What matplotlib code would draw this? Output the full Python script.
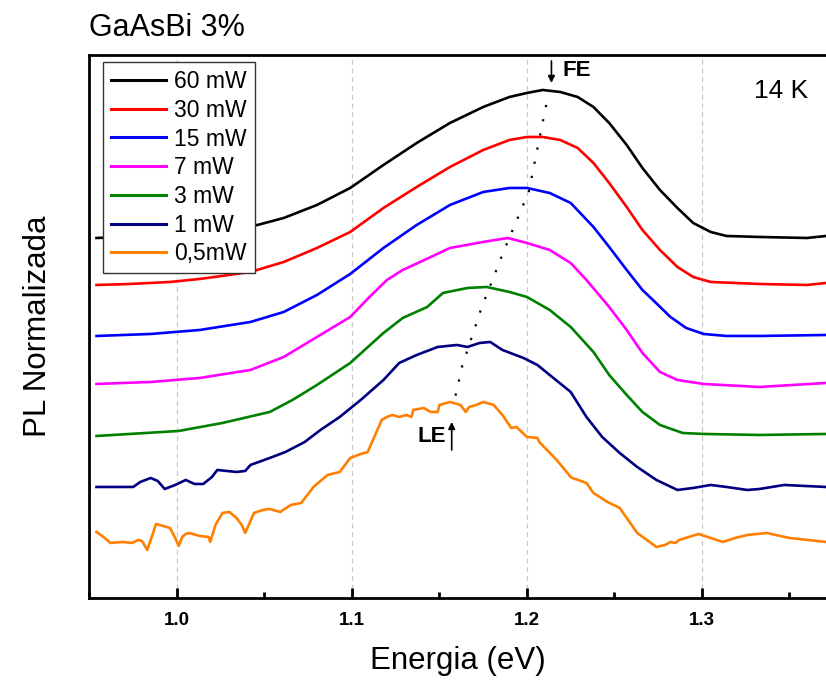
import matplotlib
matplotlib.use("Agg")
import matplotlib.pyplot as plt
from matplotlib.ticker import MultipleLocator, NullLocator

plt.rcParams['font.family'] = ['Liberation Sans', 'DejaVu Sans']

# spectra (energy in eV, stacked normalized PL, arbitrary units)
e_60 = [0.954, 0.985, 1.013, 1.046, 1.061, 1.080, 1.099, 1.118, 1.137, 1.156, 1.175, 1.190, 1.200, 1.209,
        1.219, 1.229, 1.238, 1.247, 1.257, 1.266, 1.276, 1.286, 1.295, 1.305, 1.314, 1.333, 1.360, 1.371]
pl_60 = [3.60, 3.62, 3.65, 3.73, 3.80, 3.93, 4.10, 4.33, 4.55, 4.75, 4.91, 5.01, 5.05, 5.08,
         5.06, 5.01, 4.91, 4.75, 4.53, 4.30, 4.08, 3.90, 3.75, 3.66, 3.62, 3.61, 3.60, 3.62]

e_30 = [0.954, 0.973, 0.996, 1.013, 1.042, 1.061, 1.080, 1.099, 1.118, 1.137, 1.156, 1.175, 1.190, 1.200,
        1.209, 1.219, 1.229, 1.238, 1.247, 1.257, 1.266, 1.276, 1.286, 1.295, 1.305, 1.333, 1.360, 1.371]
pl_30 = [3.13, 3.14, 3.16, 3.19, 3.26, 3.36, 3.50, 3.66, 3.90, 4.11, 4.31, 4.48, 4.58, 4.61,
         4.61, 4.58, 4.50, 4.35, 4.15, 3.91, 3.68, 3.48, 3.31, 3.21, 3.16, 3.14, 3.13, 3.15]

e_15 = [0.954, 0.985, 1.013, 1.042, 1.061, 1.080, 1.099, 1.118, 1.137, 1.156, 1.175, 1.190, 1.200, 1.213,
        1.225, 1.238, 1.247, 1.257, 1.266, 1.272, 1.282, 1.291, 1.301, 1.314, 1.333, 1.371]
pl_15 = [2.62, 2.64, 2.68, 2.76, 2.86, 3.03, 3.24, 3.50, 3.73, 3.93, 4.06, 4.10, 4.10, 4.05,
         3.95, 3.71, 3.51, 3.28, 3.08, 2.98, 2.81, 2.70, 2.64, 2.62, 2.62, 2.63]

e_7 = [0.954, 0.985, 1.013, 1.042, 1.061, 1.080, 1.099, 1.110, 1.120, 1.129, 1.139, 1.156, 1.175, 1.189,
       1.200, 1.213, 1.225, 1.234, 1.247, 1.257, 1.266, 1.276, 1.286, 1.301, 1.333, 1.371]
pl_7 = [2.14, 2.16, 2.20, 2.28, 2.41, 2.61, 2.81, 3.01, 3.18, 3.28, 3.36, 3.50, 3.56, 3.60,
        3.55, 3.48, 3.35, 3.18, 2.91, 2.68, 2.45, 2.26, 2.18, 2.14, 2.11, 2.15]

e_3 = [0.954, 0.973, 1.001, 1.026, 1.053, 1.066, 1.080, 1.099, 1.118, 1.129, 1.143, 1.152, 1.166, 1.177,
       1.190, 1.200, 1.213, 1.225, 1.238, 1.247, 1.257, 1.266, 1.276, 1.289, 1.301, 1.333, 1.371]
pl_3 = [1.62, 1.64, 1.67, 1.75, 1.86, 1.98, 2.13, 2.35, 2.65, 2.80, 2.91, 3.05, 3.10, 3.11,
        3.06, 3.01, 2.88, 2.71, 2.46, 2.23, 2.03, 1.86, 1.73, 1.65, 1.64, 1.63, 1.64]

e_1 = [0.954, 0.975, 0.979, 0.985, 0.989, 0.993, 0.999, 1.005, 1.010, 1.015,
       1.020, 1.023, 1.034, 1.039, 1.042, 1.053, 1.062, 1.073, 1.082, 1.093,
       1.105, 1.118, 1.127, 1.137, 1.149, 1.160, 1.166, 1.173, 1.179, 1.186,
       1.198, 1.206, 1.213, 1.225, 1.234, 1.243, 1.253, 1.263, 1.274, 1.286,
       1.295, 1.305, 1.314, 1.326, 1.333, 1.347, 1.371]
pl_1 = [1.11, 1.11, 1.16, 1.20, 1.17, 1.09, 1.13, 1.18, 1.14, 1.14,
        1.21, 1.28, 1.26, 1.27, 1.33, 1.40, 1.46, 1.56, 1.68, 1.81,
        1.98, 2.18, 2.35, 2.43, 2.51, 2.53, 2.51, 2.55, 2.56, 2.48,
        2.40, 2.33, 2.23, 2.06, 1.81, 1.61, 1.45, 1.31, 1.18, 1.08,
        1.10, 1.13, 1.11, 1.08, 1.09, 1.13, 1.11]

e_05 = [0.954, 0.958, 0.962, 0.969, 0.974, 0.978, 0.980, 0.983, 0.986, 0.988, 0.992, 0.996, 0.999, 1.001,
        1.003, 1.005, 1.007, 1.013, 1.018, 1.019, 1.022, 1.026, 1.030, 1.034, 1.037, 1.039, 1.042, 1.044,
        1.049, 1.053, 1.059, 1.065, 1.071, 1.078, 1.086, 1.093, 1.099, 1.105, 1.109, 1.112, 1.117, 1.120,
        1.123, 1.127, 1.131, 1.134, 1.135, 1.141, 1.145, 1.149, 1.150, 1.156, 1.162, 1.165, 1.167, 1.171,
        1.175, 1.181, 1.186, 1.191, 1.194, 1.200, 1.206, 1.207, 1.217, 1.225, 1.226, 1.234, 1.238, 1.246,
        1.253, 1.263, 1.274, 1.279, 1.282, 1.285, 1.287, 1.298, 1.305, 1.312, 1.319, 1.326, 1.337, 1.350,
        1.371]
pl_05 = [0.66, 0.61, 0.55, 0.56, 0.55, 0.58, 0.57, 0.48, 0.63, 0.74, 0.72, 0.70, 0.60, 0.52,
         0.61, 0.64, 0.65, 0.62, 0.61, 0.56, 0.73, 0.85, 0.86, 0.80, 0.73, 0.65, 0.77, 0.85,
         0.88, 0.89, 0.86, 0.93, 0.95, 1.11, 1.23, 1.26, 1.40, 1.44, 1.46, 1.58, 1.78, 1.81,
         1.83, 1.81, 1.83, 1.81, 1.88, 1.90, 1.86, 1.86, 1.93, 1.96, 1.93, 1.86, 1.91, 1.93,
         1.96, 1.93, 1.83, 1.70, 1.71, 1.61, 1.60, 1.56, 1.38, 1.21, 1.20, 1.15, 1.05, 0.96,
         0.90, 0.65, 0.51, 0.53, 0.56, 0.55, 0.58, 0.64, 0.60, 0.56, 0.60, 0.63, 0.65, 0.60,
         0.56]

labels = ['60 mW', '30 mW', '15 mW', '7 mW', '3 mW', '1 mW', '0,5mW']
colors = ['#000000', '#ff0000', '#0000ff', '#ff00ff', '#008000', '#000080', '#ff8000']
energies = [e_60, e_30, e_15, e_7, e_3, e_1, e_05]
spectra = [pl_60, pl_30, pl_15, pl_7, pl_3, pl_1, pl_05]

# dotted guide through the peak shift
trend_e = [1.211, 1.201, 1.187, 1.174, 1.163, 1.159]
trend_pl = [4.93, 4.06, 3.48, 2.90, 2.32, 2.01]

fig = plt.figure(figsize=(8.26, 6.83), dpi=100)
ax = fig.add_axes([0.1077, 0.1245, 0.8923, 0.795])

for e, pl, c, lab in zip(energies, spectra, colors, labels):
    assert len(e) == len(pl)
    ax.plot(e, pl, color=c, lw=1.9, label=lab, solid_joinstyle='round')

ax.plot(trend_e, trend_pl, color='k', lw=1.6, linestyle=(0, (1, 5.5)))

ax.set_xlim(0.9497, 1.3709)
ax.set_ylim(0, 5.43)
ax.xaxis.set_major_locator(MultipleLocator(0.1))
ax.xaxis.set_minor_locator(MultipleLocator(0.05))
ax.yaxis.set_major_locator(NullLocator())
ax.tick_params(axis='x', which='major', direction='in', length=7, width=2, pad=10,
               labelsize=13.5, top=False)
ax.tick_params(axis='x', which='minor', direction='in', length=4, width=2, top=False)
for t in ax.get_xticklabels():
    t.set_fontweight('bold')
ax.xaxis.grid(True, which='major', color='#c8c8c8', linestyle=(0, (4, 3)), lw=0.9)

for side in ['left', 'bottom', 'top']:
    ax.spines[side].set_linewidth(2)
ax.spines['right'].set_visible(False)

ax.set_xlabel('Energia (eV)', fontsize=22.5, labelpad=12)
ax.set_ylabel('PL Normalizada', fontsize=22.5, labelpad=26)
ax.set_title('GaAsBi 3%', loc='left', fontsize=22, pad=14)

leg = ax.legend(loc='upper left', bbox_to_anchor=(0.019, 0.987), borderaxespad=0,
                fontsize=16.5, handlelength=2.4, handletextpad=0.35, labelspacing=0.25,
                borderpad=0.35, fancybox=False, framealpha=1, edgecolor='#333333')
leg.get_frame().set_linewidth(1.0)
for line in leg.get_lines():
    line.set_linewidth(2.2)

ax.annotate('', xy=(1.214, 5.15), xytext=(1.214, 5.37),
            arrowprops=dict(arrowstyle='-|>', color='k', lw=1.2, mutation_scale=10,
                            shrinkA=0, shrinkB=0))
ax.text(1.2206, 5.27, 'FE', fontsize=16, fontweight='bold', va='center', ha='left')

ax.annotate('', xy=(1.157, 1.76), xytext=(1.157, 1.48),
            arrowprops=dict(arrowstyle='-|>', color='k', lw=1.2, mutation_scale=10,
                            shrinkA=0, shrinkB=0))
ax.text(1.1535, 1.61, 'LE', fontsize=16, fontweight='bold', va='center', ha='right')

ax.text(1.330, 5.07, '14 K', fontsize=19, va='center', ha='left')

fig.savefig('out.png', dpi=100)
